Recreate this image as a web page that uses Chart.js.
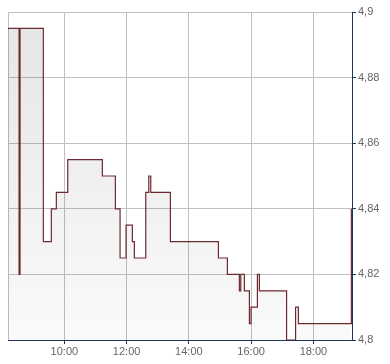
<!DOCTYPE html>
<html>
<head>
<meta charset="utf-8">
<script src="https://cdn.jsdelivr.net/npm/chart.js@4/dist/chart.umd.min.js"></script>
<style>
  html, body { margin: 0; padding: 0; background: #ffffff; }
  #wrap { width: 390px; height: 364px; position: relative; }
</style>
</head>
<body>
<div id="wrap"><canvas id="c" width="390" height="364"></canvas></div>
<script>
// Time of day in hours (decimal), step changes of the price
const times = [8.19, 8.545, 8.577, 9.325, 9.582, 9.743, 10.109, 11.221, 11.639, 11.79,
  11.982, 12.185, 12.249, 12.615, 12.712, 12.776, 13.406, 14.948, 15.237, 15.622,
  15.667, 15.783, 15.944, 15.998, 16.201, 16.265, 17.139, 17.428, 17.518, 19.22];
const prices = [4.895, 4.82, 4.895, 4.83, 4.84, 4.845, 4.855, 4.85, 4.84, 4.825,
  4.835, 4.83, 4.825, 4.845, 4.85, 4.845, 4.83, 4.825, 4.82, 4.815,
  4.82, 4.815, 4.805, 4.81, 4.82, 4.815, 4.80, 4.81, 4.805, 4.84];
const xTickHours = [10, 12, 14, 16, 18];
const yTickValues = [4.8, 4.82, 4.84, 4.86, 4.88, 4.9];
const xRange = [8.19, 19.24];
const yRange = [4.8, 4.9];

const points = times.map((t, i) => ({ x: t, y: prices[i] }));

const leftBorder = {
  id: 'leftBorder',
  beforeDatasetsDraw(chart) {
    const { ctx, chartArea } = chart;
    ctx.save();
    ctx.strokeStyle = '#c0c0c0';
    ctx.lineWidth = 1;
    ctx.beginPath();
    ctx.moveTo(Math.round(chartArea.left) + 0.5, chartArea.top);
    ctx.lineTo(Math.round(chartArea.left) + 0.5, chartArea.bottom);
    ctx.stroke();
    ctx.restore();
  }
};

const axisColor = '#1c355e';
const gridColor = '#c0c0c0';
const labelFont = { family: '"Liberation Sans", Arial, sans-serif', size: 11 };

new Chart(document.getElementById('c'), {
  type: 'line',
  data: {
    datasets: [{
      data: points,
      stepped: true,
      borderColor: '#6e2a30',
      borderWidth: 1.2,
      pointRadius: 0,
      fill: 'start',
      backgroundColor(ctx) {
        const area = ctx.chart.chartArea;
        if (!area) return 'rgba(0,0,0,0.06)';
        const g = ctx.chart.ctx.createLinearGradient(0, area.top, 0, area.bottom);
        g.addColorStop(0, 'rgba(0,0,0,0.10)');
        g.addColorStop(1, 'rgba(0,0,0,0.02)');
        return g;
      }
    }]
  },
  options: {
    responsive: false,
    animation: false,
    layout: { padding: { left: 8, top: 12, right: 0, bottom: 0 } },
    plugins: { legend: { display: false }, tooltip: { enabled: false } },
    scales: {
      x: {
        type: 'linear',
        min: xRange[0],
        max: xRange[1],
        afterBuildTicks(scale) { scale.ticks = xTickHours.map(v => ({ value: v })); },
        afterFit(scale) { scale.height = 24; },
        ticks: {
          autoSkip: false,
          maxRotation: 0,
          padding: 1,
          color: '#666666',
          font: labelFont,
          callback: v => String(v).padStart(2, '0') + ':00'
        },
        grid: { color: gridColor, tickColor: axisColor, tickLength: 4, lineWidth: 1 },
        border: { color: axisColor, width: 1 }
      },
      y: {
        position: 'right',
        min: yRange[0],
        max: yRange[1],
        afterBuildTicks(scale) { scale.ticks = yTickValues.map(v => ({ value: v })); },
        afterFit(scale) { scale.width = 38; },
        ticks: {
          padding: 2,
          color: '#666666',
          font: labelFont,
          callback: v => String(Number(v.toFixed(2))).replace('.', ',')
        },
        grid: { color: gridColor, tickColor: axisColor, tickLength: 4, lineWidth: 1 },
        border: { color: axisColor, width: 1 }
      }
    }
  },
  plugins: [leftBorder]
});
</script>
</body>
</html>
